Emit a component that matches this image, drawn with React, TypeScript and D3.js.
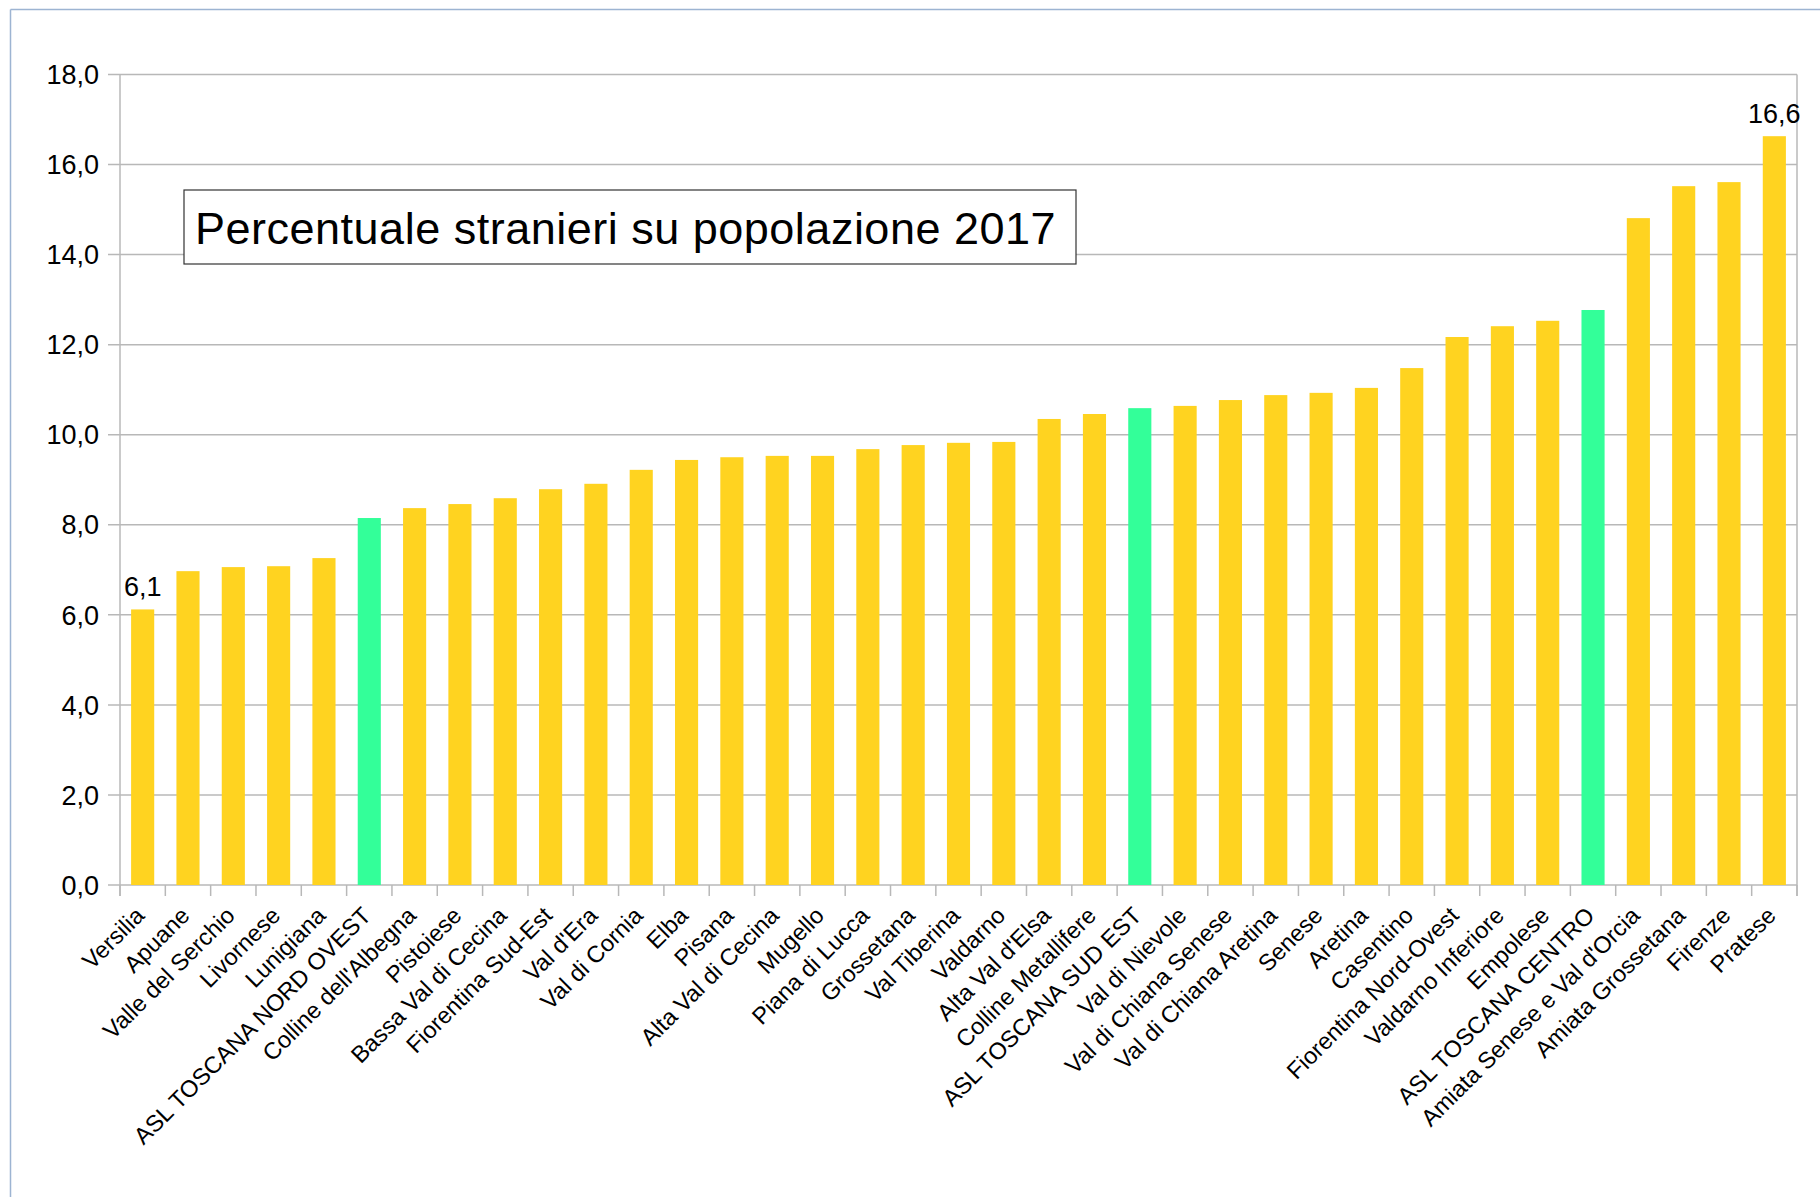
import React from "react";
import * as d3 from "d3";

const categories = [
  "Versilia", "Apuane", "Valle del Serchio", "Livornese", "Lunigiana",
  "ASL TOSCANA NORD OVEST", "Colline dell'Albegna", "Pistoiese", "Bassa Val di Cecina",
  "Fiorentina Sud-Est", "Val d'Era", "Val di Cornia", "Elba", "Pisana",
  "Alta Val di Cecina", "Mugello", "Piana di Lucca", "Grossetana", "Val Tiberina",
  "Valdarno", "Alta Val d'Elsa", "Colline Metallifere", "ASL TOSCANA SUD EST",
  "Val di Nievole", "Val di Chiana Senese", "Val di Chiana Aretina", "Senese",
  "Aretina", "Casentino", "Fiorentina Nord-Ovest", "Valdarno Inferiore", "Empolese",
  "ASL TOSCANA CENTRO", "Amiata Senese e Val d'Orcia", "Amiata Grossetana",
  "Firenze", "Pratese",
];

const values = [
  6.12, 6.97, 7.06, 7.08, 7.26,
  8.15, 8.37, 8.46, 8.59,
  8.79, 8.91, 9.22, 9.44, 9.5,
  9.53, 9.53, 9.68, 9.77, 9.82,
  9.84, 10.35, 10.46, 10.59,
  10.64, 10.77, 10.88, 10.93,
  11.04, 11.48, 12.17, 12.41, 12.53,
  12.77, 14.81, 15.52,
  15.61, 16.63,
];

const highlighted = ["ASL TOSCANA NORD OVEST", "ASL TOSCANA SUD EST", "ASL TOSCANA CENTRO"];
const labeledCategories = ["Versilia", "Pratese"];
const yTicks = [0, 2, 4, 6, 8, 10, 12, 14, 16, 18];
const title = "Percentuale stranieri su popolazione 2017";

const W = 1820;
const H = 1197;
const FONT = "'Liberation Sans', Arial, sans-serif";
const YELLOW = "#FFD320";
const GREEN = "#33FF99";
const GRID = "#b8b8b8";

const fmt = (v: number) => d3.format(".1f")(v).replace(".", ",");

export default function App() {
  const left = 120;
  const right = 1797;
  const top = 74.5;
  const bottom = 885;

  const x = d3
    .scaleBand<string>()
    .domain(categories)
    .range([left, right])
    .paddingInner(0.49)
    .paddingOuter(0.245);
  const y = d3.scaleLinear().domain([0, 18]).range([bottom, top]);

  const step = x.step();
  const gap = (step - x.bandwidth()) / 2;
  const boundaries = categories.map((c) => (x(c) as number) - gap);
  boundaries.push(right);

  return (
    <svg
      width={W}
      height={H}
      style={{ position: "absolute", left: 0, top: 0, background: "#fff" }}
      fontFamily={FONT}
    >
      <rect x={0} y={0} width={W} height={H} fill="#fff" />
      {/* outer border */}
      <line x1={10.5} y1={9.5} x2={W} y2={9.5} stroke="#9db4d2" strokeWidth={1.5} />
      <line x1={10.5} y1={9.5} x2={10.5} y2={H} stroke="#9db4d2" strokeWidth={1.5} />

      {/* gridlines */}
      {yTicks.map((t) => (
        <line key={"g" + t} x1={left - 12} x2={right} y1={y(t)} y2={y(t)} stroke={GRID} strokeWidth={1.5} />
      ))}
      {/* y axis line */}
      <line x1={left} x2={left} y1={top} y2={bottom + 11} stroke={GRID} strokeWidth={1.5} />
      <line x1={right} x2={right} y1={top} y2={bottom + 11} stroke={GRID} strokeWidth={1.5} />
      {/* x ticks */}
      {boundaries.map((b, i) => (
        <line key={"t" + i} x1={b} x2={b} y1={bottom} y2={bottom + 11} stroke={GRID} strokeWidth={1.5} />
      ))}

      {/* y tick labels */}
      {yTicks.map((t) => (
        <text key={"yl" + t} x={99} y={y(t)} dy="0.36em" textAnchor="end" fontSize={27} fill="#000">
          {fmt(t)}
        </text>
      ))}

      {/* bars */}
      {categories.map((c, i) => (
        <rect
          key={"b" + c}
          x={x(c)}
          y={y(values[i])}
          width={x.bandwidth()}
          height={bottom - y(values[i])}
          fill={highlighted.includes(c) ? GREEN : YELLOW}
        />
      ))}

      {/* value labels */}
      {categories.map((c, i) =>
        labeledCategories.includes(c) ? (
          <text
            key={"v" + c}
            x={(x(c) as number) + x.bandwidth() / 2}
            y={y(values[i]) - 13.5}
            textAnchor="middle"
            fontSize={27}
            fill="#000"
          >
            {fmt(values[i])}
          </text>
        ) : null
      )}

      {/* x labels */}
      {categories.map((c) => {
        const cx = (x(c) as number) + x.bandwidth() / 2;
        return (
          <text
            key={"xl" + c}
            transform={`translate(${cx + 3},${917}) rotate(-45)`}
            textAnchor="end"
            fontSize={23.5}
            fill="#000"
          >
            {c}
          </text>
        );
      })}

      {/* title box */}
      <rect x={184} y={190} width={892} height={74} fill="#fff" stroke="#333" strokeWidth={1.2} />
      <text x={195} y={244} fontSize={45} letterSpacing={0.5} fill="#000">
        {title}
      </text>
    </svg>
  );
}
